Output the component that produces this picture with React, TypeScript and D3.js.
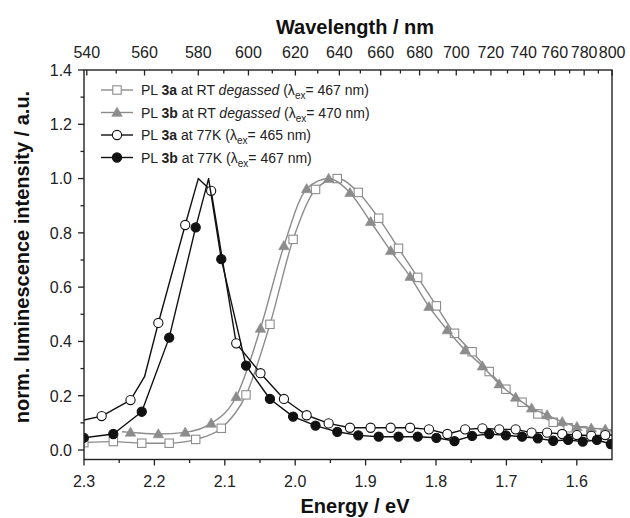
import React from 'react';
import * as d3 from 'd3';

const HC = 1239.84;

const energyMajor = [2.3, 2.2, 2.1, 2.0, 1.9, 1.8, 1.7, 1.6];
const energyMinor = [2.25, 2.15, 2.05, 1.95, 1.85, 1.75, 1.65];
const wavelengthMajor = [540, 560, 580, 600, 620, 640, 660, 680, 700, 720, 740, 760, 780, 800];
const wavelengthMinor = [550, 570, 590, 610, 630, 650, 670, 690, 710, 730, 750, 770, 790];
const intensityMajor = [0, 0.2, 0.4, 0.6, 0.8, 1.0, 1.2, 1.4];
const intensityMinor = [0.1, 0.3, 0.5, 0.7, 0.9, 1.1, 1.3];

// PL 3a at RT degassed (open squares)
const rt3aNm = [539, 549, 559, 569, 579, 589, 599, 609, 619, 629, 639, 649, 659, 669, 679, 689, 699, 709, 719, 729, 739, 749, 759, 769, 779, 789, 799];
const rt3aVal = [0.027, 0.031, 0.025, 0.025, 0.039, 0.080, 0.203, 0.463, 0.776, 0.96, 1.0, 0.949, 0.854, 0.743, 0.636, 0.531, 0.43, 0.362, 0.289, 0.224, 0.176, 0.133, 0.102, 0.082, 0.071, 0.064, 0.054];
const rt3aExtraNm = [801];
const rt3aExtraVal = [0.053];

// PL 3b at RT degassed (filled triangles)
const rt3bNm = [555, 565, 575, 585, 595, 605, 615, 625, 635, 645, 655, 665, 675, 685, 695, 705, 715, 725, 735, 745, 755, 765, 775, 785, 795];
const rt3bVal = [0.065, 0.059, 0.065, 0.098, 0.196, 0.448, 0.752, 0.962, 1.0, 0.948, 0.841, 0.734, 0.639, 0.528, 0.442, 0.368, 0.309, 0.243, 0.194, 0.154, 0.129, 0.104, 0.086, 0.080, 0.076];
const rt3bExtraNm = [552, 801];
const rt3bExtraVal = [0.067, 0.073];

// PL 3a at 77K (open circles)
const lt3aNm = [545, 555, 565, 575, 585, 595, 605, 615, 625, 635, 645, 655, 665, 675, 685, 695, 705, 715, 725, 735, 745, 755, 765, 775, 785, 795];
const lt3aVal = [0.125, 0.184, 0.468, 0.829, 0.955, 0.393, 0.283, 0.188, 0.128, 0.098, 0.082, 0.082, 0.082, 0.082, 0.076, 0.059, 0.076, 0.080, 0.076, 0.076, 0.064, 0.064, 0.059, 0.055, 0.052, 0.055];
const lt3aExtraNm = [538, 560, 580, 590, 801];
const lt3aExtraVal = [0.108, 0.27, 1.0, 0.67, 0.055];

// PL 3b at 77K (filled circles)
const lt3bNm = [539, 549, 559, 569, 579, 589, 599, 609, 619, 629, 639, 649, 659, 669, 679, 689, 699, 709, 719, 729, 739, 749, 759, 769, 779, 789, 799];
const lt3bVal = [0.045, 0.059, 0.141, 0.414, 0.82, 0.703, 0.311, 0.188, 0.123, 0.09, 0.067, 0.054, 0.049, 0.049, 0.049, 0.045, 0.033, 0.052, 0.059, 0.054, 0.049, 0.043, 0.034, 0.037, 0.031, 0.037, 0.022];
const lt3bExtraNm = [584, 801];
const lt3bExtraVal = [1.0, 0.022];

const GRAY = '#8c8c8c';
const BLACK = '#111111';

type Marker = 'square' | 'triangle' | 'circle';
interface Series {
  key: string;
  nm: number[];
  val: number[];
  exNm: number[];
  exVal: number[];
  color: string;
  marker: Marker;
  fill: string;
  sample: string;
  temp: string;
  degassed: boolean;
  lex: string;
  smooth: boolean;
}

const series: Series[] = [
  { key: 'rt3a', nm: rt3aNm, val: rt3aVal, exNm: rt3aExtraNm, exVal: rt3aExtraVal, color: GRAY, marker: 'square', fill: '#ffffff', sample: '3a', temp: 'RT', degassed: true, lex: '467', smooth: true },
  { key: 'rt3b', nm: rt3bNm, val: rt3bVal, exNm: rt3bExtraNm, exVal: rt3bExtraVal, color: GRAY, marker: 'triangle', fill: GRAY, sample: '3b', temp: 'RT', degassed: true, lex: '470', smooth: true },
  { key: 'lt3a', nm: lt3aNm, val: lt3aVal, exNm: lt3aExtraNm, exVal: lt3aExtraVal, color: BLACK, marker: 'circle', fill: '#ffffff', sample: '3a', temp: '77K', degassed: false, lex: '465', smooth: false },
  { key: 'lt3b', nm: lt3bNm, val: lt3bVal, exNm: lt3bExtraNm, exVal: lt3bExtraVal, color: BLACK, marker: 'circle', fill: BLACK, sample: '3b', temp: '77K', degassed: false, lex: '467', smooth: false },
];

const W = 630;
const H = 518;
const FONT = "'Liberation Sans', Arial, Helvetica, sans-serif";

const x = d3.scaleLinear().domain([2.3, 1.55]).range([84, 612]);
const y = d3.scaleLinear().domain([-0.035, 1.4]).range([459.5, 70]);

function MarkerShape({ type, cx, cy, color, fill }: { type: Marker; cx: number; cy: number; color: string; fill: string }) {
  if (type === 'circle') {
    return <circle cx={cx} cy={cy} r={4.6} fill={fill} stroke={color} strokeWidth={1.1} />;
  }
  if (type === 'square') {
    return <rect x={cx - 4.2} y={cy - 4.2} width={8.4} height={8.4} fill={fill} stroke={color} strokeWidth={1.1} />;
  }
  const path = d3.symbol().type(d3.symbolTriangle).size(48)() as string;
  return <path d={path} transform={`translate(${cx},${cy + 0.8})`} fill={fill} stroke={color} strokeWidth={0.6} />;
}

export default function App() {
  const [x0, x1] = x.range();
  const [yb, yt] = y.range();
  const smoothLine = d3
    .line<[number, number]>()
    .x((d) => x(HC / d[0]))
    .y((d) => y(d[1]))
    .curve(d3.curveMonotoneX);
  const straightLine = d3
    .line<[number, number]>()
    .x((d) => x(HC / d[0]))
    .y((d) => y(d[1]))
    .curve(d3.curveLinear);

  const legendY = [90, 112.5, 135, 157.5];

  return (
    <svg width={W} height={H} style={{ position: 'absolute', left: 0, top: 0, background: '#fff' }} fontFamily={FONT}>
      <defs>
        <clipPath id="plotClip">
          <rect x={x0} y={yt} width={x1 - x0} height={yb - yt} />
        </clipPath>
      </defs>
      <rect x={0} y={0} width={W} height={H} fill="#fff" />

      {/* series */}
      <g clipPath="url(#plotClip)">
        {series.map((s) => {
          const pts: [number, number][] = s.nm
            .map((n, i) => [n, s.val[i]] as [number, number])
            .concat(s.exNm.map((n, i) => [n, s.exVal[i]] as [number, number]))
            .sort((a, b) => a[0] - b[0]);
          const gen = s.smooth ? smoothLine : straightLine;
          return (
            <g key={s.key}>
              <path d={gen(pts) as string} fill="none" stroke={s.color} strokeWidth={1.4} strokeLinejoin="round" />
              {s.nm.map((n, i) => (
                <MarkerShape key={i} type={s.marker} cx={x(HC / n)} cy={y(s.val[i])} color={s.color} fill={s.fill} />
              ))}
            </g>
          );
        })}
      </g>

      {/* frame */}
      <rect x={x0} y={yt} width={x1 - x0} height={yb - yt} fill="none" stroke="#222" strokeWidth={1.4} />

      {/* bottom axis */}
      {energyMajor.map((e) => (
        <g key={`em${e}`}>
          <line x1={x(e)} x2={x(e)} y1={yb} y2={yb + 6} stroke="#222" strokeWidth={1.3} />
          <text x={x(e)} y={487} textAnchor="middle" fontSize={16} fill="#222">
            {e.toFixed(1)}
          </text>
        </g>
      ))}
      {energyMinor.map((e) => (
        <line key={`en${e}`} x1={x(e)} x2={x(e)} y1={yb} y2={yb + 3.5} stroke="#222" strokeWidth={1.3} />
      ))}

      {/* top axis (wavelength) */}
      {wavelengthMajor.map((w) => (
        <g key={`wm${w}`}>
          <line x1={x(HC / w)} x2={x(HC / w)} y1={yt} y2={yt + 5.5} stroke="#222" strokeWidth={1.3} />
          <text x={x(HC / w)} y={58} textAnchor="middle" fontSize={16} fill="#222">
            {w}
          </text>
        </g>
      ))}
      {wavelengthMinor.map((w) => (
        <line key={`wn${w}`} x1={x(HC / w)} x2={x(HC / w)} y1={yt} y2={yt + 3.5} stroke="#222" strokeWidth={1.3} />
      ))}

      {/* left axis */}
      {intensityMajor.map((v) => (
        <g key={`im${v}`}>
          <line x1={x0 - 6} x2={x0} y1={y(v)} y2={y(v)} stroke="#222" strokeWidth={1.3} />
          <text x={72} y={y(v) + 5.8} textAnchor="end" fontSize={16} fill="#222">
            {v.toFixed(1)}
          </text>
        </g>
      ))}
      {intensityMinor.map((v) => (
        <line key={`in${v}`} x1={x0 - 3.5} x2={x0} y1={y(v)} y2={y(v)} stroke="#222" strokeWidth={1.3} />
      ))}

      {/* titles */}
      <text x={355} y={34} textAnchor="middle" fontSize={20} fontWeight="bold" fill="#111">
        Wavelength / nm
      </text>
      <text x={355} y={513} textAnchor="middle" fontSize={20} fontWeight="bold" fill="#111">
        Energy / eV
      </text>
      <text
        transform={`translate(29,${257}) rotate(-90)`}
        textAnchor="middle"
        fontSize={20}
        fontWeight="bold"
        fill="#111"
      >
        norm. luminescence intensity / a.u.
      </text>

      {/* legend */}
      {series.map((s, i) => {
        const ly = legendY[i];
        return (
          <g key={`lg${s.key}`}>
            <line x1={101} x2={133} y1={ly} y2={ly} stroke={s.color} strokeWidth={1.4} />
            <MarkerShape type={s.marker} cx={117} cy={ly} color={s.color} fill={s.fill} />
            <text x={141} y={ly + 5} fontSize={14} fill="#222">
              <tspan>PL </tspan>
              <tspan fontWeight="bold">{s.sample}</tspan>
              <tspan>{` at ${s.temp} `}</tspan>
              {s.degassed ? <tspan fontStyle="italic">degassed </tspan> : null}
              <tspan>(λ</tspan>
              <tspan fontSize={10} dy={4}>ex</tspan>
              <tspan dy={-4}>{`= ${s.lex} nm)`}</tspan>
            </text>
          </g>
        );
      })}
    </svg>
  );
}
